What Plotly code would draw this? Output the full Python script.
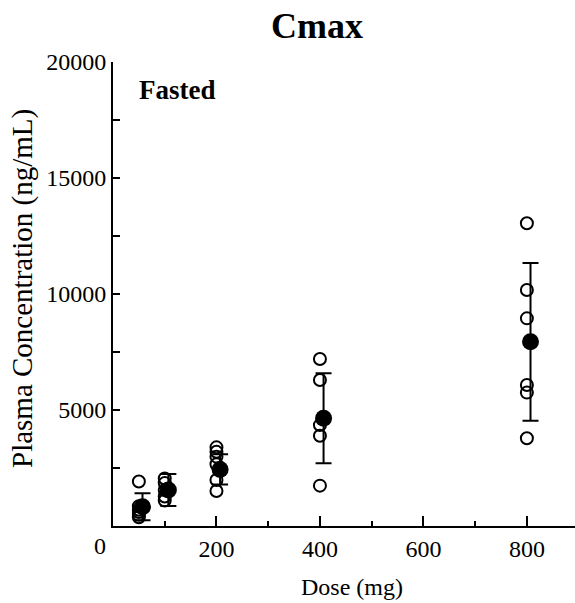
import plotly.graph_objects as go

# ---- data ----
doses = [50, 100, 200, 400, 800]
individual = {
    50: [1920, 850, 700, 600, 480, 380],
    100: [2050, 1850, 1550, 1270, 1100],
    200: [3390, 3200, 2990, 2660, 1980, 1510],
    400: [7200, 6290, 4350, 3890, 1740],
    800: [13050, 10170, 8950, 6080, 5750, 3780],
}
mean_values = [830, 1550, 2440, 4640, 7940]
sd_values = [580, 690, 650, 1940, 3400]
mean_offset = 7  # means drawn slightly right of the individual points

x_tickvals = [200, 400, 600, 800]
x_ticktext = ["200", "400", "600", "800"]
y_tickvals = [5000, 10000, 15000, 20000]
y_ticktext = ["5000", "10000", "15000", "20000"]

FONT = "Liberation Serif, Times New Roman, serif"

W, H = 575, 603
L, R, T, B = 113, 0, 62, 77

ind_x, ind_y = [], []
for d in doses:
    for v in individual[d]:
        ind_x.append(d)
        ind_y.append(v)

fig = go.Figure()
fig.add_trace(go.Scatter(
    x=ind_x, y=ind_y, mode="markers",
    marker=dict(symbol="circle-open", size=12, color="black", line=dict(width=2, color="black")),
    showlegend=False, cliponaxis=False,
))
fig.add_trace(go.Scatter(
    x=[d + mean_offset for d in doses], y=mean_values, mode="markers",
    marker=dict(symbol="circle", size=17, color="black"),
    error_y=dict(type="data", array=sd_values, visible=True, color="black", thickness=2, width=8),
    showlegend=False, cliponaxis=False,
))

pw = W - L - R
ph = H - T - B

fig.update_layout(
    width=W, height=H,
    margin=dict(l=L, r=R, t=T, b=B, pad=0),
    paper_bgcolor="white", plot_bgcolor="white",
    font=dict(family=FONT, color="black", size=24),
    xaxis=dict(
        range=[0, 893], showgrid=False, zeroline=False,
        showline=True, linecolor="black", linewidth=2,
        tickmode="array", tickvals=x_tickvals, ticktext=x_ticktext,
        ticks="inside", ticklen=10, tickwidth=2, tickcolor="black",
        tickfont=dict(family=FONT, size=24, color="black"),
        minor=dict(tickvals=[100, 300, 500, 700], ticks="inside", ticklen=5, tickwidth=2, tickcolor="black"),
        fixedrange=True,
    ),
    yaxis=dict(
        range=[0, 20000], showgrid=False, zeroline=False,
        showline=True, linecolor="black", linewidth=2,
        tickmode="array", tickvals=y_tickvals, ticktext=y_ticktext,
        ticks="inside", ticklen=7, tickwidth=2, tickcolor="black",
        tickfont=dict(family=FONT, size=24, color="black"),
        minor=dict(tickvals=[2500, 7500, 12500, 17500], ticks="inside", ticklen=7, tickwidth=2, tickcolor="black"),
        fixedrange=True,
    ),
    annotations=[
        dict(text="<b>Cmax</b>", xref="paper", yref="paper",
             x=(317 - L) / pw, y=1 + (T - 26) / ph, xanchor="center", yanchor="middle",
             showarrow=False, font=dict(family=FONT, size=36, color="black")),
        dict(text="<b>Fasted</b>", xref="paper", yref="paper",
             x=(137 - L) / pw, y=1 - (90 - T) / ph, xanchor="left", yanchor="middle",
             showarrow=False, font=dict(family=FONT, size=27, color="black")),
        dict(text="0", xref="paper", yref="paper",
             x=(100 - L) / pw, y=-(546 - (T + ph)) / ph, xanchor="center", yanchor="middle",
             showarrow=False, font=dict(family=FONT, size=24, color="black")),
        dict(text="Dose (mg)", xref="paper", yref="paper",
             x=(352 - L) / pw, y=-(587 - (T + ph)) / ph, xanchor="center", yanchor="middle",
             showarrow=False, font=dict(family=FONT, size=24, color="black")),
        dict(text="Plasma Concentration (ng/mL)", xref="paper", yref="paper", textangle=-90,
             x=(22 - L) / pw, y=1 - (289 - T) / ph, xanchor="center", yanchor="middle",
             showarrow=False, font=dict(family=FONT, size=29, color="black")),
    ],
)

fig.write_html("out.html")
